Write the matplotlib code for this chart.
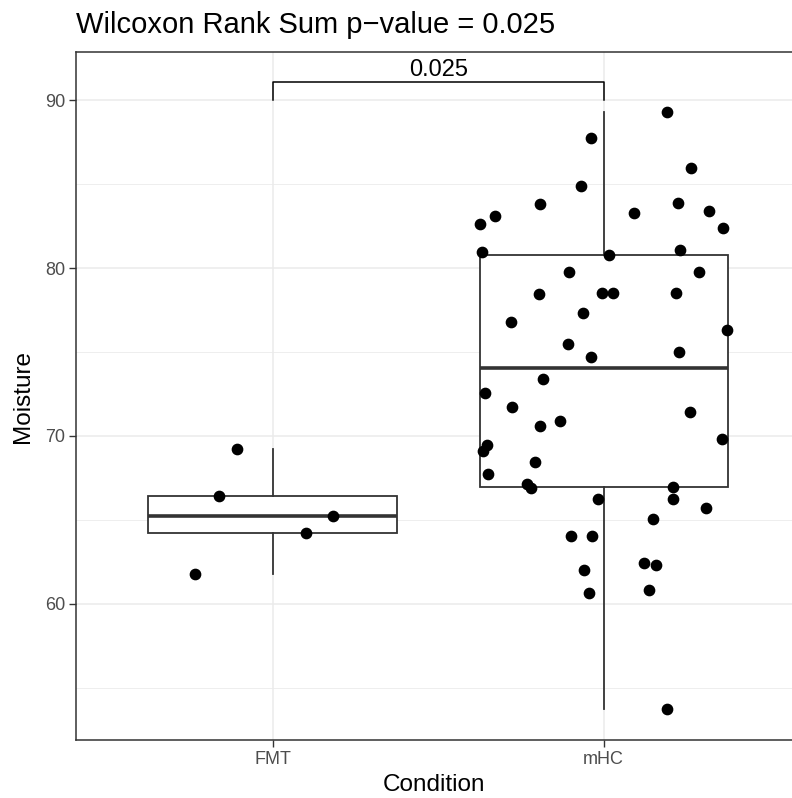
import numpy as np
import matplotlib.pyplot as plt
from matplotlib.ticker import MultipleLocator

plt.rcParams['font.family'] = ['Liberation Sans', 'DejaVu Sans']

# Moisture per sample, with the horizontal jitter used for each point
conditions = ['FMT', 'mHC']

fmt_moisture = [69.22, 66.43, 65.24, 64.24, 61.79]
fmt_jitter = [-0.107, -0.163, 0.181, 0.101, -0.233]

mhc_moisture = [89.29, 87.74, 85.97, 84.90, 83.81, 83.85, 83.11, 82.62, 83.30,
                83.39, 82.36, 80.93, 80.75, 81.09, 79.79, 79.76, 78.43, 78.51,
                78.53, 78.49, 77.30, 76.81, 76.29, 75.50, 75.00, 74.70, 73.40,
                72.58, 71.75, 71.41, 70.92, 70.62, 69.82, 69.46, 69.13, 68.43,
                67.72, 67.14, 66.89, 66.95, 66.25, 66.25, 65.73, 65.04, 64.07,
                64.05, 62.46, 62.34, 62.00, 60.85, 60.64, 53.73]
mhc_jitter = [0.190, -0.038, 0.265, -0.067, -0.192, 0.226, -0.327, -0.375, 0.093,
              0.318, 0.361, -0.366, 0.017, 0.230, -0.104, 0.288, -0.196, -0.005,
              0.028, 0.219, -0.062, -0.279, 0.372, -0.107, 0.229, -0.039, -0.184,
              -0.358, -0.276, 0.261, -0.131, -0.192, 0.358, -0.351, -0.365, -0.208,
              -0.348, -0.232, -0.220, 0.211, -0.016, 0.208, 0.309, 0.149, -0.098,
              -0.036, 0.122, 0.159, -0.058, 0.137, -0.045, 0.190]

p_value = 0.025

fig = plt.figure(figsize=(7.92, 7.98), dpi=100)
ax = fig.add_axes([76 / 792, 58 / 798, 1 - 76 / 792, 688 / 798])

line_col = '#333333'
ax.boxplot([fmt_moisture, mhc_moisture], positions=[1, 2], widths=0.75,
           whis=1.5, showfliers=False, patch_artist=True,
           boxprops=dict(facecolor='white', edgecolor=line_col, linewidth=1.3),
           whiskerprops=dict(color=line_col, linewidth=1.3),
           capprops=dict(linewidth=0),
           medianprops=dict(color=line_col, linewidth=2.6),
           zorder=2)

ax.scatter(1 + np.array(fmt_jitter), fmt_moisture, s=55, color='black', zorder=3)
ax.scatter(2 + np.array(mhc_jitter), mhc_moisture, s=55, color='black', zorder=3)

# significance bracket
y_top = 91.1
ax.plot([1, 1, 2, 2], [90.0, y_top, y_top, 90.0], color='black', lw=1.1,
        clip_on=False, zorder=4)
ax.text(1.5, y_top + 0.05, f'{p_value}', ha='center', va='bottom', fontsize=17)

ax.set_xlim(0.406, 2.569)
ax.set_ylim(51.9, 92.86)
ax.set_xticks([1, 2])
ax.set_xticklabels(conditions)
ax.yaxis.set_major_locator(MultipleLocator(10))
ax.yaxis.set_minor_locator(MultipleLocator(5))
ax.set_yticks([60, 70, 80, 90])

ax.grid(which='major', color='#EBEBEB', linewidth=1.1, zorder=0)
ax.grid(which='minor', axis='y', color='#EBEBEB', linewidth=0.6, zorder=0)
ax.set_axisbelow(True)
ax.tick_params(which='minor', length=0)
ax.tick_params(which='major', length=5, color='#333333', labelsize=13,
               labelcolor='#4D4D4D', width=1, pad=3)

for side in ['left', 'top', 'bottom']:
    ax.spines[side].set_color('#333333')
    ax.spines[side].set_linewidth(1.1)
ax.spines['right'].set_visible(False)

ax.set_xlabel('Condition', fontsize=17.5, labelpad=4)
ax.set_ylabel('Moisture', fontsize=17.5, labelpad=8)
fig.text(76 / 792, 1 - 25 / 798, 'Wilcoxon Rank Sum p\u2212value = 0.025',
         ha='left', va='center', fontsize=21)

fig.savefig('out.png', dpi=100)
